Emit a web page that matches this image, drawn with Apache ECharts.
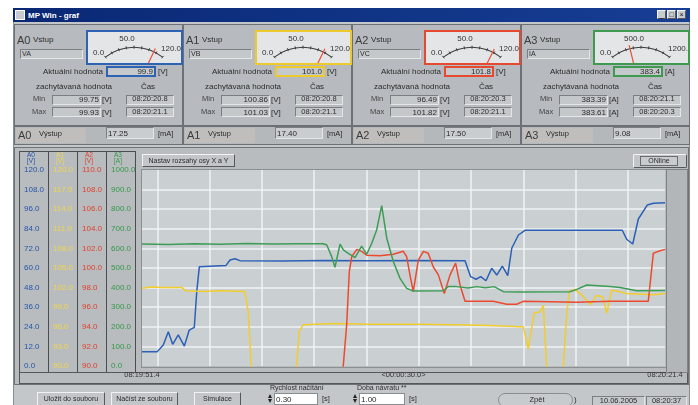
<!DOCTYPE html>
<html><head><meta charset="utf-8">
<script src="https://cdn.jsdelivr.net/npm/echarts@6.0.0/dist/echarts.min.js"></script>
<style>
html,body{margin:0;padding:0}
body{width:698px;height:405px;overflow:hidden;background:#fff;font-family:"Liberation Sans",Arial,"DejaVu Sans",sans-serif;position:relative}
.a{position:absolute;white-space:nowrap;box-sizing:border-box}
</style></head><body>
<div id="root" style="position:absolute;left:0;top:0;width:698px;height:405px"></div>
<div id="main" style="position:absolute;left:0;top:0;width:698px;height:405px;pointer-events:none"></div>
<script>
// ---------- data ----------
const channels = ['A0','A1','A2','A3'];
const channelUnits = ['[V]','[V]','[V]','[A]'];
const inputNames = ['VA','VB','VC','IA'];
const actualValues = ['99.9','101.0','101.8','383.4'];
const minValues = ['99.75','100.86','96.49','383.39'];
const minTimes = ['08:20:20.8','08:20:20.8','08:20:20.3','08:20:21.1'];
const maxValues = ['99.93','101.03','101.82','383.61'];
const maxTimes = ['08:20:21.1','08:20:21.1','08:20:21.1','08:20:20.3'];
const outputValues = ['17.25','17.40','17.50','9.08'];
const gaugeValues = [99.9, 101.0, 101.8, 383.4];
const gaugeMax = [120, 120, 120, 1200];
const gaugeLabels = [['0.0','50.0','120.0'],['0.0','50.0','120.0'],['0.0','50.0','120.0'],['0.0','500.0','1200.']];
const axisMin = [0, 90, 90, 0];
const axisMax = [120, 120, 110, 1000];
const xTickValues = [0, 15, 30];
const xTickLabels = ['08:19:51.4', '<00:00:30.0>', '08:20:21.4'];

const a0Times = [0,0.88,1.22,1.51,1.76,2.08,2.43,2.71,3.0,3.14,3.29,3.37,4.82,5.05,5.33,5.62,8.0,10.5,13.0,15.5,18.53,18.85,19.16,19.43,19.73,20.06,20.35,20.67,20.98,21.21,21.59,21.97,27.55,27.8,28.15,28.47,28.99,29.33,30];
const a0Values = [8.8,8.8,12.9,21.0,13.3,19.0,12.2,22.0,23.7,45.5,60.8,61.6,61.6,64.9,65.7,64.5,64.3,64.6,64.4,64.6,64.5,54.7,53.1,54.7,52.2,59.8,55.7,61.2,55.3,72.1,80.2,83.1,83.1,77.6,74.7,90.0,98.6,99.6,99.9];
const a1Times = [0,0.5,1.2,2.3,2.5,3.5,4.5,5.9,6.0,6.1,6.3,8.8,8.87,9.02,9.25,11.0,13.0,15.95,18.0,20.0,21.7,21.87,22.16,22.49,22.83,23.02,23.25,24.12,24.36,24.51,24.84,25.22,25.7,26.08,26.43,26.66,26.94,27.32,27.8,28.76,29.33,30];
const a1Values = [101.9,102.1,102.0,102.0,101.5,101.4,101.5,101.4,101.6,98.3,88.0,88.0,90.2,95.3,96.3,96.5,96.4,96.4,96.3,96.2,96.0,96.0,92.6,98.1,98.3,99.3,88.0,88.0,97.8,101.5,101.7,100.9,99.4,100.8,100.6,98.1,101.6,101.4,101.1,101.0,100.9,101.1];
const a2Times = [0,11.45,11.74,11.89,12.03,12.32,12.6,12.89,13.65,14.42,14.99,15.18,15.37,15.56,15.85,16.14,16.42,16.71,17.0,17.34,17.67,17.99,18.24,18.53,20.15,20.92,21.49,21.87,24.94,26.85,29.04,29.33,29.62,30];
const a2Values = [88,88,94.2,99.6,101.15,101.9,101.7,101.3,101.25,101.4,101.7,101.15,99.3,97.6,100.8,101.7,101.5,100.1,99.3,97.4,99.3,100.5,98.3,96.6,96.6,96.3,96.3,96.6,96.5,96.6,96.6,101.5,101.7,101.9];
const a3Times = [0,1.5,3.0,4.5,6.0,7.5,9.0,10.4,10.6,10.88,11.07,11.36,11.55,11.83,12.22,12.6,12.89,13.18,13.46,13.75,14.04,14.42,14.8,15.18,15.56,17.28,17.57,18.05,18.7,19.2,19.7,20.2,20.73,21.68,24.55,24.94,25.51,26.85,27.42,28.38,30];
const a3Values = [622,620,624,621,625,622,624,624,617,558,504,622,592,575,553,612,570,626,694,818,652,532,447,396,383,384,405,405,398,405,399,405,379,378,379,391,413,405,400,384,385];

// ---------- styles ----------
const lineColors = ['#2c60b6','#f2cd2e','#ec4a30','#3e9c56'];
const labelColors = ['#2455a8','#efd64a','#e0402c','#34984a'];
const boxColors = ['#2e63b4','#ecc92c','#e5492f','#3d9a4f'];
const FONT = '"Liberation Sans", Arial, sans-serif';

const root = document.getElementById('root');
function R(x,y,w,h,css,parent){const d=document.createElement('div');d.className='a';d.style.cssText=`left:${x}px;top:${y}px;width:${w}px;height:${h}px;${css||''}`;(parent||root).appendChild(d);return d;}
function T(x,yc,s,o){o=o||{};const size=o.size||8;const lh=size+3;const d=document.createElement('div');d.className='a';
  let left=x,w='';if(o.align==='right'){left=x-300;w='width:300px;text-align:right;';}else if(o.align==='center'){left=x-150;w='width:300px;text-align:center;';}
  d.style.cssText=`left:${left}px;top:${yc-lh/2}px;line-height:${lh}px;font-size:${size}px;color:${o.color||'#2b2b2b'};${w}${o.bold?'font-weight:bold;':''}${o.extra||''}`;
  d.textContent=s;(o.parent||root).appendChild(d);return d;}
const SUNK='background:#c5c8cb;border:1px solid;border-color:#7b7f83 #e4e6e8 #e4e6e8 #7b7f83;';
const RAISED='background:#c3c6c9;border:1px solid;border-color:#f2f2f2 #55595c #55595c #f2f2f2;';

// window
R(13,8,677,397,'background:#c4c7ca;border-left:1px solid #8a8d90;border-right:1px solid #8a8d90;');
R(13,8,677,14,'background:linear-gradient(to right,#0a2874,#163e94);');
R(15,10,10,10,'background:#c8ccd0;border:1px solid #fff;');
T(28,15,'MP Win - graf',{size:8,bold:true,color:'#ffffff'});
['_','□','×'].forEach((g,i)=>{R(657+10*i,10,9,9,RAISED+'background:#c8cbce;');T(661.5+10*i,14.5,g,{size:7,align:'center',color:'#111'});});

// panels
const gaugeHosts=[];
channels.forEach((c,i)=>{
  const L=14+169*i, col=boxColors[i], unit=channelUnits[i];
  R(L,24,169,102,'background:#b7bbbf;border:1px solid #6d7175;');
  T(L+3,40,c,{size:11,color:'#3c3c3c'});
  T(L+19,39,'Vstup',{size:8});
  R(L+6,49,63,10,SUNK);
  T(L+8,54,inputNames[i],{size:7});
  R(L+72,30,97,35,`background:#e3e5e7;border:2px solid ${col};`);
  const host=R(L+74,32,93,31,'overflow:hidden;');
  gaugeHosts.push(host);
  T(L+89,71.5,'Aktuální hodnota',{align:'right'});
  R(L+92,66,50,11,`background:#c6c9cc;border:2px solid ${col};`);
  T(L+139,71.5,actualValues[i],{align:'right'});
  T(L+144,71.5,unit);
  T(L+22,86,'zachytávaná hodnota');
  T(L+134,86,'Čas',{align:'center'});
  T(L+19,99.5,'Min',{size:7.5,color:'#444'});
  R(L+38,94.5,49,10,SUNK); T(L+85,99.5,minValues[i],{align:'right'}); T(L+88,99.5,unit);
  R(L+112,94.5,48,10,SUNK); T(L+136,99.5,minTimes[i],{align:'center',size:7.5});
  T(L+18,112,'Max',{size:7.5,color:'#444'});
  R(L+38,107,49,10,SUNK); T(L+85,112,maxValues[i],{align:'right'}); T(L+88,112,unit);
  R(L+112,107,48,10,SUNK); T(L+136,112,maxTimes[i],{align:'center',size:7.5});
  R(L,126,169,19,'background:#b5b8bb;border:1px solid #6d7175;');
  R(L+2,128,70,15,'background:#c0bdbd;');
  T(L+4,135,c,{size:11,color:'#3c3c3c'});
  T(L+25,134,'Výstup',{size:7.5});
  R(L+92,127,48,12,SUNK+'background:#cacdd0;');
  T(L+94,133,outputValues[i]);
  T(L+144,134,'[mA]',{size:7.5});
});

// chart section
R(14,147,675,238,'background:#b9bcbf;border:1px solid #6f7376;');
channels.forEach((c,i)=>{
  const x=19+29*i;
  R(x,151,30,222,'background:#b9bcbf;border:1px solid #4b4e51;');
  T(x+12,155,c,{size:6.5,align:'center',color:labelColors[i]});
  T(x+12,161,channelUnits[i],{size:6.5,align:'center',color:labelColors[i]});
});
R(19,372,669,12,'border:1px solid #55585b;');
R(141,169,526,199,'border:1px solid #8d9093;');
R(666,169,22,204,'background:#b3b6b9;border:1px solid #808386;');
R(142,154,93,13,RAISED);
T(188.5,160.5,'Nastav rozsahy osy X a Y',{size:7,align:'center'});
R(633,154,54,14,RAISED+'border-radius:2px;');
R(640,156,38,10,'border:1px solid #6a6d70;background:#c9ccce;');
T(659,161,'ONline',{size:7,align:'center'});

// bottom toolbar
R(37,392,68,14,RAISED); T(71,399,'Uložit do souboru',{size:7,align:'center'});
R(111,392,67,14,RAISED); T(144.5,399,'Načíst ze souboru',{size:7,align:'center'});
R(194,392,47,14,RAISED); T(217.5,399,'Simulace',{size:7,align:'center'});
function spinner(x){R(x,394,0,0,'border-left:2.5px solid transparent;border-right:2.5px solid transparent;border-bottom:4px solid #222;');R(x,399,0,0,'border-left:2.5px solid transparent;border-right:2.5px solid transparent;border-top:4px solid #222;');}
T(270,387.5,'Rychlost načítání',{size:7});
spinner(268); R(274,393,44,12,'background:#fff;border:1px solid #8a8d90;'); T(276,399,'0.30'); T(322,399,'[s]',{size:7.5});
T(357,387.5,'Doba návratu **',{size:7});
spinner(353); R(359,393,46,12,'background:#fff;border:1px solid #8a8d90;'); T(361,399,'1.00'); T(409,399,'[s]',{size:7.5});
R(498,393,75,14,'background:#c8cbce;border:1px solid #8a8d90;border-radius:7px;');
T(537,400,'Zpět',{size:7.5,align:'center'});
T(574,399,')',{size:8});
R(592,396,53,11,SUNK); T(618.5,401,'10.06.2005',{size:7.5,align:'center'});
R(646,396,41,11,SUNK); T(666.5,401,'08:20:37',{size:7.5,align:'center'});

// ---------- gauges ----------
gaugeHosts.forEach((host,i)=>{
  const g=document.createElement('div');g.style.cssText='position:absolute;left:0;top:0;width:93px;height:31px;';host.appendChild(g);
  const ch=echarts.init(g,null,{renderer:'canvas'});
  ch.setOption({animation:false,series:[{type:'gauge',center:[46,61.7],radius:47,startAngle:128,endAngle:52,min:0,max:gaugeMax[i],splitNumber:8,
    axisLine:{lineStyle:{width:1,color:[[1,'#3a3a3a']]}},
    splitLine:{length:3,distance:-2,lineStyle:{color:'#3a3a3a',width:1}},
    axisTick:{show:false},axisLabel:{show:false},progress:{show:false},
    pointer:{icon:'rect',length:50,width:1.2,itemStyle:{color:'#e8503a'}},
    anchor:{show:false},title:{show:false},detail:{show:false},
    data:[{value:gaugeValues[i]}]}]});
  const lb=gaugeLabels[i];
  T(5,20,lb[0],{size:8,parent:host,color:'#333'});
  T(39,6,lb[1],{size:8,parent:host,align:'center',color:'#333'});
  T(73,16.5,lb[2],{size:8,parent:host,color:'#333'});
});

// ---------- main chart ----------
const seriesTimes=[a0Times,a1Times,a2Times,a3Times];
const seriesValues=[a0Values,a1Values,a2Values,a3Values];
const labelLeft=[24,53,82,111];
const chart=echarts.init(document.getElementById('main'),null,{renderer:'canvas'});
chart.setOption({
  animation:false,backgroundColor:'transparent',
  grid:[{left:142,top:170,width:523,height:196,show:true,backgroundColor:'#cacfd2',borderWidth:0},
        {left:157.3,top:170,width:470.7,height:196,show:false}],
  xAxis:[{gridIndex:0,type:'value',min:0,max:30,interval:15,axisLine:{show:false},axisTick:{show:false},splitLine:{show:false},
          axisLabel:{show:true,showMinLabel:true,showMaxLabel:true,margin:5,fontSize:7.5,color:'#333',fontFamily:FONT,
            formatter:v=>{const k=xTickValues.indexOf(v);return k>=0?xTickLabels[k]:'';}}},
         {gridIndex:1,type:'value',min:0,max:9,interval:1,axisLine:{show:false},axisTick:{show:false},axisLabel:{show:false},
          splitLine:{show:true,lineStyle:{color:'#f1f3f4',width:1.5}}}],
  yAxis:channels.map((c,i)=>({gridIndex:0,type:'value',position:'left',offset:0,min:axisMin[i],max:axisMax[i],interval:(axisMax[i]-axisMin[i])/10,
      axisLine:{show:false},axisTick:{show:false},
      splitLine:{show:i===0,showMinLine:false,showMaxLine:false,lineStyle:{color:'#f1f3f4',width:1.5}},
      axisLabel:{align:'left',margin:142-labelLeft[i],color:labelColors[i],fontSize:8,fontFamily:FONT,showMinLabel:true,showMaxLabel:true,
        formatter:v=>v.toFixed(1)}})).concat([{gridIndex:1,type:'value',min:0,max:1,show:false}]),
  series:channels.map((c,i)=>({type:'line',name:c,xAxisIndex:0,yAxisIndex:i,showSymbol:false,symbol:'none',clip:true,
      lineStyle:{color:lineColors[i],width:1.5},itemStyle:{color:lineColors[i]},
      data:seriesTimes[i].map((t,k)=>[t,seriesValues[i][k]])}))
});
</script></body></html>
